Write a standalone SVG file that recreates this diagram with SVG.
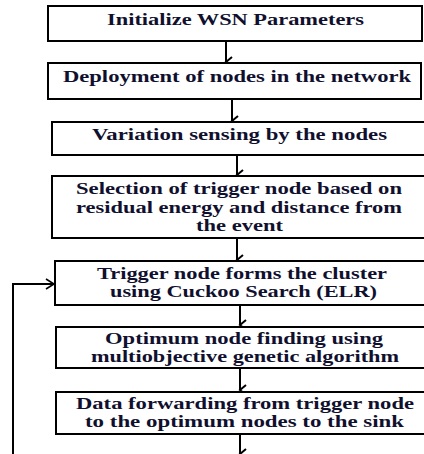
<svg xmlns="http://www.w3.org/2000/svg" width="424" height="454" viewBox="0 0 424 454">
<style>
.box{fill:#fff;stroke:#000;stroke-width:2}
.t{font-family:"Liberation Serif","Times New Roman",serif;font-weight:bold;font-size:16px;fill:#10102e}
.c{fill:none;stroke:#000;stroke-width:2}
</style>
<defs>
<marker id="ah" markerWidth="12" markerHeight="10" refX="6" refY="8" orient="auto" markerUnits="userSpaceOnUse" viewBox="0 0 12 10">
<path d="M1,2 L6,8 L11,2" fill="none" stroke="#000" stroke-width="2"/>
</marker>
<marker id="ahr" markerWidth="12" markerHeight="12" refX="10" refY="6" orient="0" markerUnits="userSpaceOnUse" viewBox="0 0 12 12">
<path d="M2,1 L10,6 L2,11" fill="none" stroke="#000" stroke-width="1.6"/>
</marker>
</defs>
<rect width="424" height="454" fill="#fff"/>
<g id="connectors">
<line class="c" x1="226" y1="41" x2="226" y2="62" marker-end="url(#ah)"/>
<line class="c" x1="232" y1="99" x2="232" y2="121" marker-end="url(#ah)"/>
<line class="c" x1="237" y1="155" x2="237" y2="175" marker-end="url(#ah)"/>
<line class="c" x1="237" y1="238" x2="237" y2="260" marker-end="url(#ah)"/>
<line class="c" x1="240" y1="305" x2="240" y2="325" marker-end="url(#ah)"/>
<line class="c" x1="240" y1="368" x2="240" y2="390" marker-end="url(#ah)"/>
<line class="c" x1="240" y1="434" x2="240" y2="454" marker-end="url(#ah)"/>
<polyline class="c" points="13,454 13,284 54,284" marker-end="url(#ahr)"/>
</g>
<g id="n1">
<rect class="box" x="48" y="6" width="374" height="35"/>
<text class="t" x="107" y="25" textLength="257" lengthAdjust="spacingAndGlyphs">Initialize WSN Parameters</text>
</g>
<g id="n2">
<rect class="box" x="48" y="63" width="373" height="36"/>
<text class="t" x="63" y="82" textLength="348" lengthAdjust="spacingAndGlyphs">Deployment of nodes in the network</text>
</g>
<g id="n3">
<rect class="box" x="52" y="122" width="380" height="33"/>
<text class="t" x="92" y="140" textLength="295" lengthAdjust="spacingAndGlyphs">Variation sensing by the nodes</text>
</g>
<g id="n4">
<rect class="box" x="52" y="176" width="380" height="62"/>
<text class="t" x="76" y="194" textLength="326" lengthAdjust="spacingAndGlyphs">Selection of trigger node based on</text>
<text class="t" x="76" y="213" textLength="326" lengthAdjust="spacingAndGlyphs">residual energy and distance from</text>
<text class="t" x="196" y="231" textLength="87" lengthAdjust="spacingAndGlyphs">the event</text>
</g>
<g id="n5">
<rect class="box" x="55" y="261" width="380" height="44"/>
<text class="t" x="97" y="279" textLength="290" lengthAdjust="spacingAndGlyphs">Trigger node forms the cluster</text>
<text class="t" x="110" y="297" textLength="267" lengthAdjust="spacingAndGlyphs">using Cuckoo Search (ELR)</text>
</g>
<g id="n6">
<rect class="box" x="56" y="327" width="380" height="41"/>
<text class="t" x="105" y="344" textLength="278" lengthAdjust="spacingAndGlyphs">Optimum node finding using</text>
<text class="t" x="91" y="362" textLength="308" lengthAdjust="spacingAndGlyphs">multiobjective genetic algorithm</text>
</g>
<g id="n7">
<rect class="box" x="56" y="392" width="380" height="42"/>
<text class="t" x="76" y="409" textLength="338" lengthAdjust="spacingAndGlyphs">Data forwarding from trigger node</text>
<text class="t" x="85" y="427" textLength="319" lengthAdjust="spacingAndGlyphs">to the optimum nodes to the sink</text>
</g>
</svg>
